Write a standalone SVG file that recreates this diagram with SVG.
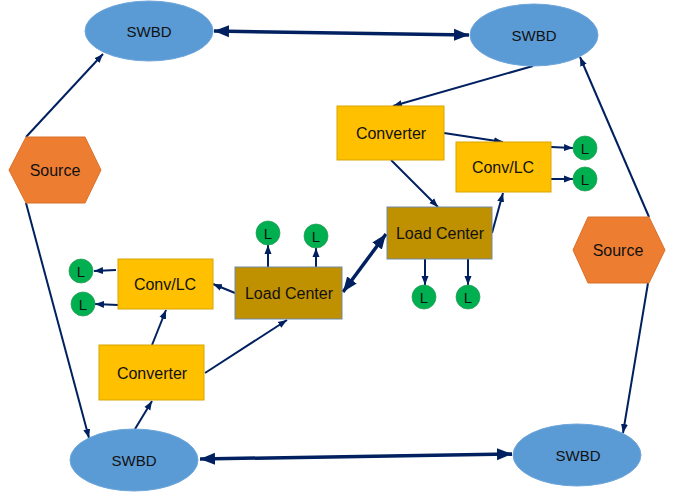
<svg xmlns="http://www.w3.org/2000/svg" width="680" height="494" viewBox="0 0 680 494">
  <style>
    .swbd { fill: #5B9BD5; stroke: #6FA6DB; stroke-width: 1; }
    .src { fill: #ED7D31; stroke: #D9702A; stroke-width: 1; }
    .conv { fill: #FFC000; stroke: #D9A400; stroke-width: 1; }
    .lc { fill: #BF9000; stroke: #6F8AA8; stroke-width: 1; }
    .load { fill: #00B050; stroke: #2E9E5B; stroke-width: 0.8; }
    text { font-family: "Liberation Sans", Arial, sans-serif; fill: #111; text-anchor: middle; dominant-baseline: central; }
    .lbl { font-size: 16px; }
    .sw { font-size: 15px; }
    .ll { font-size: 15px; }
    .thin { stroke: #002060; stroke-width: 2; fill: none; marker-end: url(#ah); }
    .thick { stroke: #002060; stroke-width: 3.5; fill: none; marker-start: url(#bhs); marker-end: url(#bh); }
  </style>
  <defs>
    <marker id="ah" markerUnits="userSpaceOnUse" markerWidth="10" markerHeight="10" viewBox="0 0 10 10" refX="9" refY="5" orient="auto">
      <path d="M0,1.5 L9,5 L0,8.5 z" fill="#002060"/>
    </marker>
    <marker id="bh" markerUnits="userSpaceOnUse" markerWidth="16" markerHeight="16" viewBox="0 0 16 16" refX="15" refY="8" orient="auto">
      <path d="M0,2 L15,8 L0,14 z" fill="#002060"/>
    </marker>
    <marker id="bhs" markerUnits="userSpaceOnUse" markerWidth="16" markerHeight="16" viewBox="0 0 16 16" refX="1" refY="8" orient="auto">
      <path d="M16,2 L1,8 L16,14 z" fill="#002060"/>
    </marker>
  </defs>

  <g id="connectors">
    <!-- bus ties between switchboards -->
    <line class="thick" x1="214" y1="31" x2="469" y2="35"/>
    <line class="thick" x1="200" y1="459" x2="512" y2="454"/>
    <line class="thick" x1="343" y1="292" x2="386" y2="234"/>
    <!-- sources to switchboards -->
    <line class="thin" x1="26" y1="137" x2="103" y2="54"/>
    <line class="thin" x1="26" y1="203" x2="89" y2="438"/>
    <line class="thin" x1="649" y1="217" x2="580" y2="57"/>
    <line class="thin" x1="648" y1="283" x2="623" y2="433"/>
    <!-- upper right zone -->
    <line class="thin" x1="533" y1="66" x2="393" y2="106"/>
    <line class="thin" x1="444" y1="133" x2="503" y2="142"/>
    <line class="thin" x1="391" y1="160" x2="438" y2="207"/>
    <line class="thin" x1="492" y1="233" x2="503" y2="193"/>
    <line class="thin" x1="551" y1="147" x2="573" y2="148"/>
    <line class="thin" x1="550" y1="179" x2="573" y2="179"/>
    <line class="thin" x1="425" y1="259" x2="425" y2="285"/>
    <line class="thin" x1="468" y1="259" x2="468" y2="285"/>
    <!-- lower left zone -->
    <line class="thin" x1="135" y1="429" x2="152" y2="401"/>
    <line class="thin" x1="152" y1="345" x2="166" y2="310"/>
    <line class="thin" x1="205" y1="373" x2="287" y2="320"/>
    <line class="thin" x1="235" y1="293" x2="213" y2="284"/>
    <line class="thin" x1="116" y1="270" x2="94" y2="271"/>
    <line class="thin" x1="118" y1="305" x2="95" y2="304"/>
    <line class="thin" x1="268" y1="274" x2="268" y2="245"/>
    <line class="thin" x1="316" y1="277" x2="316" y2="248"/>
  </g>

  <g id="swbd-top-left">
    <ellipse class="swbd" cx="149" cy="31" rx="64" ry="30"/>
    <text class="sw" x="149" y="31">SWBD</text>
  </g>
  <g id="swbd-top-right">
    <ellipse class="swbd" cx="534" cy="35" rx="64" ry="31"/>
    <text class="sw" x="534" y="35">SWBD</text>
  </g>
  <g id="swbd-bottom-left">
    <ellipse class="swbd" cx="134" cy="460" rx="64" ry="31"/>
    <text class="sw" x="134" y="460">SWBD</text>
  </g>
  <g id="swbd-bottom-right">
    <ellipse class="swbd" cx="577" cy="455" rx="64" ry="31"/>
    <text class="sw" x="578" y="455">SWBD</text>
  </g>

  <g id="source-left">
    <polygon class="src" points="26,137 85,137 101,170 85,203 26,203 9,170"/>
    <text class="lbl" x="55" y="170">Source</text>
  </g>
  <g id="source-right">
    <polygon class="src" points="588,217 649,217 665,250 649,283 588,283 573,250"/>
    <text class="lbl" x="618" y="250">Source</text>
  </g>

  <g id="converter-upper">
    <rect class="conv" x="337" y="106" width="107" height="54"/>
    <text class="lbl" x="391" y="133">Converter</text>
  </g>
  <g id="convlc-upper">
    <rect class="conv" x="456" y="142" width="95" height="50"/>
    <text class="lbl" x="503" y="167">Conv/LC</text>
  </g>
  <g id="loadcenter-upper">
    <rect class="lc" x="387" y="207" width="105" height="52"/>
    <text class="lbl" x="440" y="233">Load Center</text>
  </g>

  <g id="converter-lower">
    <rect class="conv" x="99" y="345" width="105" height="55"/>
    <text class="lbl" x="152" y="373">Converter</text>
  </g>
  <g id="convlc-lower">
    <rect class="conv" x="118" y="259" width="95" height="50"/>
    <text class="lbl" x="165" y="284">Conv/LC</text>
  </g>
  <g id="loadcenter-lower">
    <rect class="lc" x="235" y="267" width="107" height="52"/>
    <text class="lbl" x="289" y="293">Load Center</text>
  </g>

  <g id="load-1"><circle class="load" cx="585" cy="148" r="12"/><text class="ll" x="585" y="148">L</text></g>
  <g id="load-2"><circle class="load" cx="585" cy="179" r="12"/><text class="ll" x="585" y="179">L</text></g>
  <g id="load-3"><circle class="load" cx="424" cy="297" r="12"/><text class="ll" x="424" y="297">L</text></g>
  <g id="load-4"><circle class="load" cx="468" cy="297" r="12"/><text class="ll" x="468" y="297">L</text></g>
  <g id="load-5"><circle class="load" cx="268" cy="233" r="12"/><text class="ll" x="268" y="233">L</text></g>
  <g id="load-6"><circle class="load" cx="316" cy="236" r="12"/><text class="ll" x="316" y="236">L</text></g>
  <g id="load-7"><circle class="load" cx="81" cy="271" r="12"/><text class="ll" x="81" y="271">L</text></g>
  <g id="load-8"><circle class="load" cx="83" cy="304" r="12"/><text class="ll" x="83" y="304">L</text></g>
</svg>
